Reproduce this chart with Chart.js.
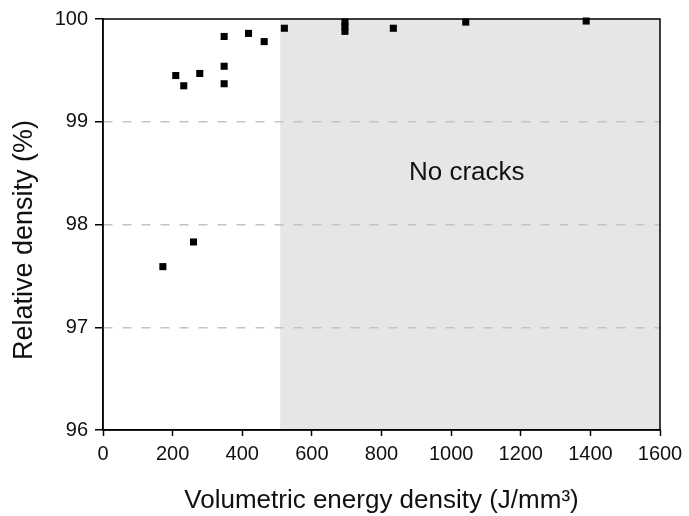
<!DOCTYPE html>
<html lang="en">
<head>
    <meta charset="UTF-8">
    <title>Relative density vs volumetric energy density</title>
    <script src="https://cdn.jsdelivr.net/npm/chart.js"></script>
    <style>
        body {
            margin: 0;
            padding: 0;
            background-color: #ffffff;
        }

        .chart-container {
            width: 689px;
            height: 516px;
        }
    </style>
</head>
<body>
    <div class="chart-container">
        <canvas id="density-chart"></canvas>
    </div>

    <script>
        const energyDensity = [172, 260, 209, 232, 278, 348, 348, 348, 418, 463, 521, 695, 695, 695, 834, 1042, 1388];
        const relativeDensity = [97.59, 97.83, 99.45, 99.35, 99.47, 99.83, 99.54, 99.37, 99.86, 99.78, 99.91, 99.97, 99.93, 99.88, 99.91, 99.97, 99.98];

        // Crack-free region and its label
        const noCrackStart = 509;
        const noCrackEnd = 1600;
        const regionLabel = "No cracks";
        const regionLabelPos = [1045, 98.5];

        const xTicks = [0, 200, 400, 600, 800, 1000, 1200, 1400, 1600];
        const yTicks = [96, 97, 98, 99, 100];

        const xTitle = "Volumetric energy density (J/mm³)";
        const yTitle = "Relative density (%)";

        const points = energyDensity.map((x, i) => ({ x: x, y: relativeDensity[i] }));

        const FONT = "'Liberation Sans', Arial, sans-serif";

        // Grey band behind everything, frame, label and y title on top
        const regionPlugin = {
            id: "regionPlugin",
            beforeDraw(chart) {
                const { ctx, chartArea, scales } = chart;
                const x0 = scales.x.getPixelForValue(noCrackStart);
                const x1 = scales.x.getPixelForValue(noCrackEnd);
                ctx.save();
                ctx.fillStyle = "#e6e6e6";
                ctx.fillRect(x0, chartArea.top, x1 - x0, chartArea.bottom - chartArea.top);
                ctx.restore();
            },
            afterDraw(chart) {
                const { ctx, chartArea, scales } = chart;
                ctx.save();
                ctx.fillStyle = "#111111";
                ctx.font = "26px " + FONT;
                ctx.textAlign = "center";
                ctx.textBaseline = "middle";
                ctx.fillText(regionLabel,
                    scales.x.getPixelForValue(regionLabelPos[0]),
                    scales.y.getPixelForValue(regionLabelPos[1]));

                // y title sits a bit below the plot centre in the original
                ctx.font = "27px " + FONT;
                ctx.translate(25, 240);
                ctx.rotate(-Math.PI / 2);
                ctx.fillText(yTitle, 0, 0);
                ctx.restore();

                ctx.save();
                ctx.strokeStyle = "#000000";
                ctx.lineWidth = 1.5;
                ctx.strokeRect(chartArea.left, chartArea.top,
                    chartArea.right - chartArea.left, chartArea.bottom - chartArea.top);
                ctx.restore();
            }
        };

        Chart.defaults.font.family = FONT;
        Chart.defaults.color = "#111111";

        new Chart(document.getElementById("density-chart").getContext("2d"), {
            type: "scatter",
            data: {
                datasets: [{
                    label: "Relative density",
                    data: points,
                    pointStyle: "rect",
                    pointRadius: 5,
                    pointHoverRadius: 5,
                    borderWidth: 0,
                    backgroundColor: "#000000",
                    clip: false
                }]
            },
            options: {
                responsive: true,
                maintainAspectRatio: false,
                animation: false,
                layout: {
                    padding: { left: 0, right: 29, top: 16, bottom: 0 }
                },
                plugins: {
                    legend: { display: false },
                    tooltip: { enabled: false }
                },
                scales: {
                    x: {
                        type: "linear",
                        min: 0,
                        max: 1600,
                        afterBuildTicks: (scale) => {
                            scale.ticks = xTicks.map(v => ({ value: v }));
                        },
                        afterFit: (scale) => {
                            scale.height = 86;
                        },
                        ticks: {
                            font: { size: 20 },
                            padding: 6,
                            maxRotation: 0,
                            callback: (v) => String(v)
                        },
                        grid: {
                            drawOnChartArea: false,
                            drawTicks: true,
                            tickLength: 6,
                            tickColor: "#000000",
                            tickWidth: 1.5
                        },
                        border: { color: "#000000", width: 1.5 },
                        title: {
                            display: true,
                            text: xTitle,
                            font: { size: 26 },
                            padding: { top: 6, bottom: 0 }
                        }
                    },
                    y: {
                        type: "linear",
                        min: 96,
                        max: 100,
                        afterBuildTicks: (scale) => {
                            scale.ticks = yTicks.map(v => ({ value: v }));
                        },
                        afterFit: (scale) => {
                            scale.width = 103;
                        },
                        ticks: {
                            font: { size: 20 },
                            padding: 7,
                            callback: (v) => String(v)
                        },
                        grid: {
                            color: (c) => (c.tick && c.tick.value > 96 && c.tick.value < 100) ? "#c4c4c4" : "rgba(0,0,0,0)",
                            lineWidth: 1.5,
                            drawTicks: true,
                            tickLength: 8,
                            tickColor: "#000000",
                            tickWidth: 1.5
                        },
                        border: { color: "#000000", width: 1.5, dash: [9, 10] },
                        title: { display: false }
                    }
                }
            },
            plugins: [regionPlugin]
        });
    </script>
</body>
</html>
